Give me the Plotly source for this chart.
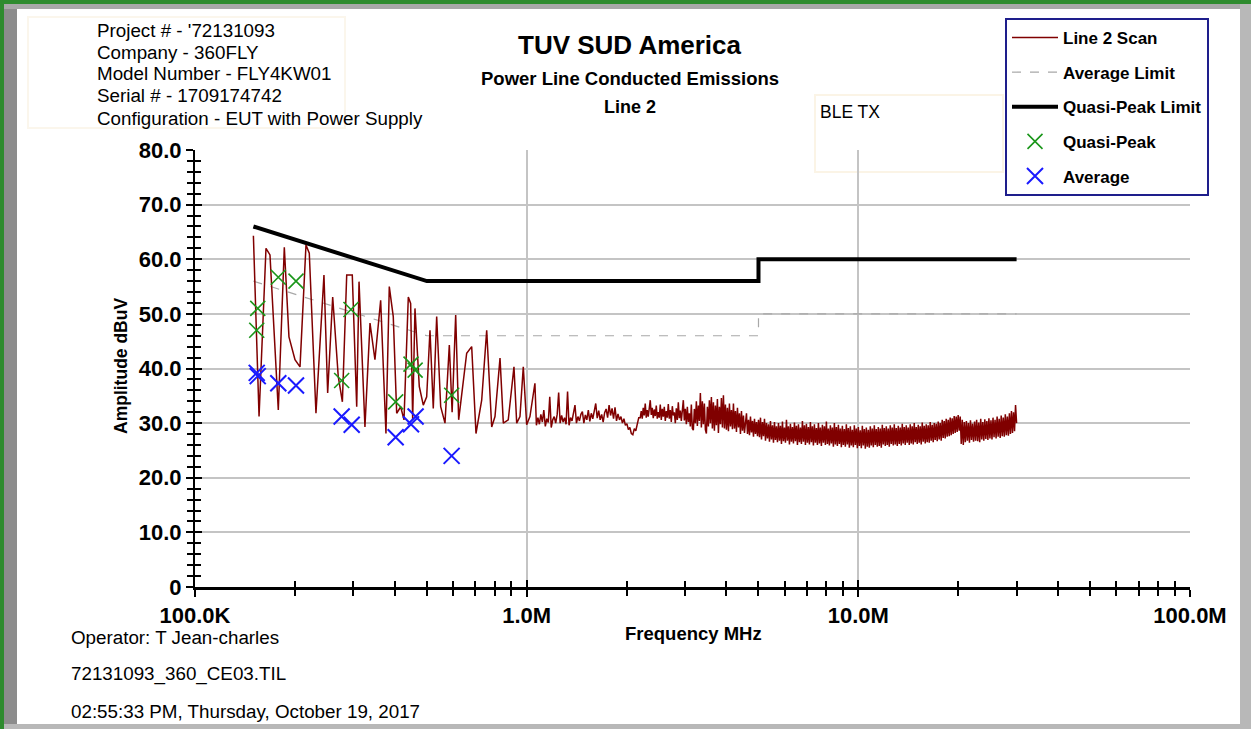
import numpy as np
import plotly.graph_objects as go

# ------------------------------------------------------------------ data
# Line 2 scan, low-frequency part (MHz, dBuV) read point by point
scan_freq_low = [0.150, 0.156, 0.1637, 0.1683, 0.1783, 0.1859, 0.1920, 0.2002, 0.2073, 0.2161,
                 0.2211, 0.2316, 0.2448, 0.2512, 0.2601, 0.2704, 0.2782, 0.2867, 0.2980, 0.3073,
                 0.3123, 0.3254, 0.3370, 0.3488, 0.3629, 0.3765, 0.3853, 0.3961, 0.4056, 0.4170,
                 0.4267, 0.4397, 0.4469, 0.4532, 0.4605, 0.4745, 0.4879, 0.4995, 0.5111, 0.5229,
                 0.5354, 0.5505, 0.5672, 0.5845, 0.5960, 0.6109, 0.6237, 0.6594, 0.6827, 0.7034,
                 0.7318, 0.7577, 0.7845, 0.8026, 0.8311, 0.8504, 0.8800, 0.9156, 0.9331, 0.9546,
                 0.9768, 1.000, 1.023, 1.059]
scan_amp_low = [64.3, 31.2, 62.0, 60.8, 32.4, 62.2, 45.8, 41.6, 40.3, 62.6,
                61.1, 31.8, 57.1, 35.5, 53.1, 38.5, 33.9, 57.1, 57.1, 33.0,
                55.9, 29.3, 48.3, 41.6, 52.5, 28.1, 55.0, 49.5, 31.8, 33.0,
                30.6, 53.1, 51.9, 30.6, 51.0, 36.7, 33.3, 34.8, 47.0, 32.7,
                49.5, 33.0, 30.0, 44.3, 32.0, 49.8, 30.6, 42.8, 44.0, 28.1,
                34.2, 47.0, 29.3, 31.2, 41.9, 30.0, 30.6, 40.3, 30.0, 31.2,
                40.3, 29.7, 31.2, 37.3]

# Dense part of the sweep: band edges (MHz) and readings within each band
scan_band_edges = [1.07, 2.2, 5.0, 20.0, 30.0]
scan_amp_band1 = [29.6, 31.0, 29.8, 31.6, 30.2, 32.4, 29.4, 30.8, 30.1, 34.8,
                  29.2, 30.6, 31.2, 30.0, 31.6, 35.6, 30.0, 31.4, 30.2, 31.0,
                  29.8, 35.8, 29.6, 31.0, 30.4, 31.8, 33.3, 30.0, 31.2, 30.4,
                  31.6, 32.1, 30.0, 31.5, 30.6, 32.4, 30.3, 31.8, 30.8, 32.2,
                  33.6, 30.9, 32.3, 30.6, 31.6, 30.2, 31.9, 32.6, 31.0, 33.3,
                  31.4, 32.7, 30.8, 32.9, 30.4, 31.7, 30.6, 31.2, 30.0, 30.8,
                  29.6, 29.9, 28.8, 29.2, 28.1, 27.9, 29.0, 28.6, 30.2, 31.0]
scan_amp_band2 = [31.0, 32.2, 30.8, 32.8, 31.4, 33.6, 31.0, 32.4, 31.2, 33.0,
                  34.2, 31.5, 32.8, 30.9, 32.5, 31.3, 33.2, 30.8, 32.0, 31.0,
                  33.4, 30.6, 32.6, 31.2, 33.0, 30.4, 32.2, 31.0, 33.5, 30.8,
                  32.4, 30.2, 33.1, 31.4, 32.0, 30.0, 32.7, 30.6, 33.8, 30.9,
                  32.3, 30.4, 33.2, 34.2, 30.5, 32.6, 29.8, 33.0, 30.2, 31.8,
                  29.4, 33.4, 29.0, 28.7, 32.6, 30.0, 34.0, 29.5, 33.2, 30.4,
                  35.5, 29.2, 34.0, 29.8, 33.6, 28.8, 28.1, 33.0, 29.4, 34.2,
                  30.0, 34.8, 29.0, 33.8, 28.6, 33.2, 29.6, 34.4, 28.2, 33.0,
                  29.8, 34.6, 29.2, 35.1, 29.0, 33.4, 28.8, 32.8, 28.5, 33.6,
                  29.4, 32.4, 28.9, 33.6, 29.0, 32.2, 28.4, 32.8, 29.2, 31.8,
                  28.0, 32.2, 28.6, 31.4, 28.2, 31.0, 31.8, 28.0, 30.6, 27.8,
                  31.2, 28.3, 30.4, 27.5, 30.8, 28.0, 30.2, 27.6]
scan_amp_band3 = [30.6, 27.4, 31.0, 27.0, 30.2, 27.6, 30.8, 26.8, 30.0, 27.2,
                  29.8, 26.6, 30.4, 27.0, 29.6, 26.4, 30.2, 26.9, 29.4, 26.5,
                  30.0, 26.8, 29.5, 26.2, 30.3, 26.7, 29.2, 26.4, 30.6, 26.8,
                  29.4, 26.1, 29.9, 26.6, 29.3, 26.3, 30.1, 26.7, 29.5, 26.0,
                  29.8, 26.5, 29.2, 26.2, 30.4, 26.6, 29.6, 26.0, 29.9, 26.4,
                  29.3, 26.1, 30.2, 26.5, 29.4, 25.9, 29.8, 26.4, 29.1, 26.0,
                  30.0, 26.3, 29.2, 25.8, 29.7, 26.4, 29.4, 26.0, 30.3, 26.2,
                  29.0, 25.9, 29.6, 26.3, 29.2, 25.7, 30.0, 26.1, 29.3, 25.8,
                  29.7, 26.2, 29.0, 25.6, 29.5, 26.0, 28.9, 25.7, 29.8, 26.1,
                  29.1, 25.5, 29.4, 25.9, 28.8, 25.6, 29.6, 26.0, 29.0, 25.4,
                  29.3, 25.8, 28.7, 25.4, 29.5, 25.9, 28.9, 25.3, 29.2, 25.7,
                  28.8, 25.5, 29.4, 25.9, 29.0, 25.6, 29.6, 26.0, 28.9, 25.7,
                  29.3, 25.8, 29.0, 25.5, 29.7, 26.1, 29.1, 25.8, 29.4, 26.0,
                  29.0, 25.7, 29.6, 26.2, 29.2, 25.9, 29.8, 26.1, 29.1, 25.8,
                  29.5, 26.2, 29.2, 25.9, 29.9, 26.3, 29.3, 26.0, 29.6, 26.4,
                  29.2, 26.0, 29.8, 26.3, 29.4, 26.1, 30.0, 26.5, 29.3, 26.2,
                  29.7, 26.4, 29.4, 26.1, 30.1, 26.6, 29.5, 26.3, 29.8, 26.5,
                  29.6, 26.4, 30.2, 26.8, 29.7, 26.5, 30.0, 26.9, 29.9, 26.7,
                  30.3, 27.0, 30.0, 26.8, 30.6, 27.3, 30.4, 27.2, 30.8, 27.5,
                  30.6, 27.6, 31.0, 27.8, 30.9, 28.0, 31.3, 28.2, 31.2, 28.4]
scan_amp_band4 = [31.5, 28.6, 31.2, 26.2, 30.6, 26.0, 30.2, 26.5, 30.4, 26.8,
                  30.0, 26.4, 30.5, 26.9, 29.9, 26.6, 30.3, 26.8, 30.6, 26.7,
                  30.1, 26.5, 30.8, 27.0, 30.2, 26.8, 30.7, 27.1, 30.4, 26.9,
                  30.9, 27.2, 30.5, 27.0, 31.0, 27.4, 30.6, 27.2, 31.2, 27.5,
                  30.8, 27.3, 31.4, 27.6, 31.0, 27.5, 31.6, 27.8, 31.2, 27.7,
                  31.8, 28.0, 32.2, 28.2, 32.0, 28.5, 33.3, 30.0]

# Limits (MHz, dBuV)
qp_limit_freq = [0.15, 0.5, 5.0, 5.0, 30.0]
qp_limit_amp = [66.0, 56.0, 56.0, 60.0, 60.0]
avg_limit_freq = [0.15, 0.5, 5.0, 5.0, 30.0]
avg_limit_amp = [56.0, 46.0, 46.0, 50.0, 50.0]

# Final measurements
qp_freq = [0.1535, 0.1546, 0.1783, 0.2016, 0.2768, 0.2953, 0.4027, 0.4480, 0.4610, 0.5940]
qp_amp = [47.0, 51.0, 56.7, 56.0, 37.8, 50.8, 33.9, 40.8, 39.7, 35.1]
avg_freq = [0.1535, 0.1546, 0.1783, 0.2016, 0.2768, 0.2968, 0.4027, 0.4480, 0.4625, 0.5940]
avg_amp = [39.2, 38.6, 37.3, 36.9, 31.2, 29.7, 27.4, 29.8, 31.2, 24.0]

# Axis ticks
x_tick_vals = [0.1, 1, 10, 100]
x_tick_text = ["100.0K", "1.0M", "10.0M", "100.0M"]
y_tick_vals = [0, 10, 20, 30, 40, 50, 60, 70, 80]
y_tick_text = ["0", "10.0", "20.0", "30.0", "40.0", "50.0", "60.0", "70.0", "80.0"]

header_lines = ["Project # - '72131093", "Company - 360FLY", "Model Number - FLY4KW01",
                "Serial # - 1709174742", "Configuration - EUT with Power Supply"]
footer_lines = ["Operator: T Jean-charles", "72131093_360_CE03.TIL",
                "02:55:33 PM, Thursday, October 19, 2017"]

# ------------------------------------------------------------------ sweep assembly
bands = [scan_amp_band1, scan_amp_band2, scan_amp_band3, scan_amp_band4]
scan_freq = list(scan_freq_low)
scan_amp = list(scan_amp_low)
for i, amps in enumerate(bands):
    last = i == len(bands) - 1
    fr = np.geomspace(scan_band_edges[i], scan_band_edges[i + 1], len(amps), endpoint=last)
    scan_freq += list(fr)
    scan_amp += list(amps)

# ------------------------------------------------------------------ layout geometry
W, H = 1251, 729
ML, MR, MT, MB = 195, 61, 150, 142
PW, PH = W - ML - MR, H - MT - MB


def px(x):
    return (x - ML) / PW


def py(y):
    return (H - MB - y) / PH


FONT = "Arial, Liberation Sans, sans-serif"

fig = go.Figure()
fig.add_trace(go.Scatter(x=avg_limit_freq, y=avg_limit_amp, mode="lines", name="Average Limit",
                         line=dict(color="#a8a8a8", width=1.2, dash="dash"),
                         legendrank=2, legendgroup="g2"))
fig.add_trace(go.Scatter(x=qp_limit_freq, y=qp_limit_amp, mode="lines", name="Quasi-Peak Limit",
                         line=dict(color="black", width=4),
                         legendrank=3, legendgroup="g3"))
fig.add_trace(go.Scatter(x=scan_freq, y=scan_amp, mode="lines", name="Line 2 Scan",
                         line=dict(color="#800000", width=1.5),
                         legendrank=1, legendgroup="g1"))
fig.add_trace(go.Scatter(x=qp_freq, y=qp_amp, mode="markers", name="Quasi-Peak",
                         marker=dict(symbol="x-thin", size=15, line=dict(color="#1a961a", width=1.6)),
                         legendrank=4, legendgroup="g4"))
fig.add_trace(go.Scatter(x=avg_freq, y=avg_amp, mode="markers", name="Average",
                         marker=dict(symbol="x-thin", size=16, line=dict(color="#1a1aff", width=2)),
                         legendrank=5, legendgroup="g5"))
# empty trace so the overlay axes (inner half of crossing ticks) get drawn
fig.add_trace(go.Scatter(x=[], y=[], xaxis="x2", yaxis="y2", showlegend=False, hoverinfo="skip"))

x_minor = [m * 10.0 ** d for d in (-1, 0, 1) for m in range(2, 10)]
y_minor = [v for v in range(0, 81, 2) if v % 10]

tickfont = dict(family=FONT, size=22, color="black", weight="bold")
fig.update_layout(
    width=W, height=H,
    margin=dict(l=ML, r=MR, t=MT, b=MB, autoexpand=False),
    paper_bgcolor="white", plot_bgcolor="white",
    showlegend=True,
    xaxis=dict(type="log", range=[-1, 2], tickvals=x_tick_vals, ticktext=x_tick_text,
               ticks="outside", ticklen=7, tickwidth=2, tickcolor="black",
               showline=True, linecolor="black", linewidth=3,
               showgrid=True, gridcolor="#c4c4c4", gridwidth=2, zeroline=False,
               tickfont=tickfont, fixedrange=True,
               minor=dict(tickvals=x_minor, ticks="outside", ticklen=6, tickwidth=1.5,
                          tickcolor="black", showgrid=False)),
    xaxis2=dict(type="log", range=[-1, 2], overlaying="x", anchor="y", side="bottom",
                tickvals=x_tick_vals, ticks="inside", ticklen=7, tickwidth=2, tickcolor="black",
                showticklabels=False, showgrid=False, showline=False, zeroline=False,
                fixedrange=True,
                minor=dict(tickvals=x_minor, ticks="inside", ticklen=6, tickwidth=1.5,
                           tickcolor="black", showgrid=False)),
    yaxis=dict(range=[0, 80], tickvals=y_tick_vals, ticktext=y_tick_text,
               ticks="outside", ticklen=7, tickwidth=2, tickcolor="black",
               showline=True, linecolor="black", linewidth=2,
               showgrid=True, gridcolor="#c4c4c4", gridwidth=2, zeroline=False,
               tickfont=tickfont, fixedrange=True,
               minor=dict(tickvals=y_minor, ticks="outside", ticklen=6, tickwidth=1.5,
                          tickcolor="black", showgrid=False)),
    yaxis2=dict(range=[0, 80], overlaying="y", anchor="x", side="left",
                tickvals=y_tick_vals, ticks="inside", ticklen=7, tickwidth=2, tickcolor="black",
                showticklabels=False, showgrid=False, showline=False, zeroline=False,
                fixedrange=True,
                minor=dict(tickvals=y_minor, ticks="inside", ticklen=6, tickwidth=1.5,
                           tickcolor="black", showgrid=False)),
    legend=dict(x=px(1005), y=py(18), xanchor="left", yanchor="top",
                bgcolor="white", bordercolor="#1e1e8c", borderwidth=2,
                font=dict(family=FONT, size=17, color="black", weight="bold"),
                traceorder="grouped", tracegroupgap=9.5, itemwidth=46),
)

ann = []


def text(x, y, s, size=16, bold=False, xanchor="left", angle=0):
    ann.append(dict(x=px(x), y=py(y), xref="paper", yref="paper", text=s, showarrow=False,
                    xanchor=xanchor, yanchor="middle", textangle=angle,
                    font=dict(family=FONT, size=size, color="black",
                              weight="bold" if bold else "normal")))


for i, s in enumerate(header_lines):
    text(95, 30 + 22 * i, s, size=18.8)
for i, s in enumerate(footer_lines):
    text(69, 637 + 37 * i, s, size=18.8)
text(630, 45, "TUV SUD America", size=26, bold=True, xanchor="center")
text(630, 78, "Power Line Conducted Emissions", size=18.5, bold=True, xanchor="center")
text(630, 107, "Line 2", size=18, bold=True, xanchor="center")
text(818, 112, "BLE TX", size=17.5)
text(121, 366, "Amplitude dBuV", size=17.5, bold=True, xanchor="center", angle=-90)
text(693, 633, "Frequency MHz", size=18.5, bold=True, xanchor="center")
fig.update_layout(annotations=ann)


def rect(x0, y0, x1, y1, fill=None, line=None, lw=0, layer="below"):
    return dict(type="rect", xref="paper", yref="paper",
                x0=px(x0), x1=px(x1), y0=py(y1), y1=py(y0),
                fillcolor=fill if fill else "rgba(0,0,0,0)",
                line=dict(color=line if line else "rgba(0,0,0,0)", width=lw), layer=layer)


shapes = [
    # faint text boxes
    rect(28, 17, 345, 128, line="#fbf6ec", lw=2),
    rect(815, 95, 1003, 172, line="#fbf4e6", lw=2),
    # window frame
    rect(0, 0, 1251, 4, fill="#2e8b2e", layer="above"),
    rect(0, 0, 4, 729, fill="#2e8b2e", layer="above"),
    rect(4, 4, 17, 729, fill="#8c8c8c", layer="above"),
    rect(4, 4, 1240, 9, fill="#a8a8a8", layer="above"),
    rect(1240, 4, 1251, 729, fill="#b8b8b8", layer="above"),
    rect(4, 724, 1251, 729, fill="#b8b8b8", layer="above"),
]
fig.update_layout(shapes=shapes)

fig.write_html("out.html", config={"displayModeBar": False},
               post_script="document.body.style.margin='0px';"
                           "document.body.style.overflow='hidden';")
